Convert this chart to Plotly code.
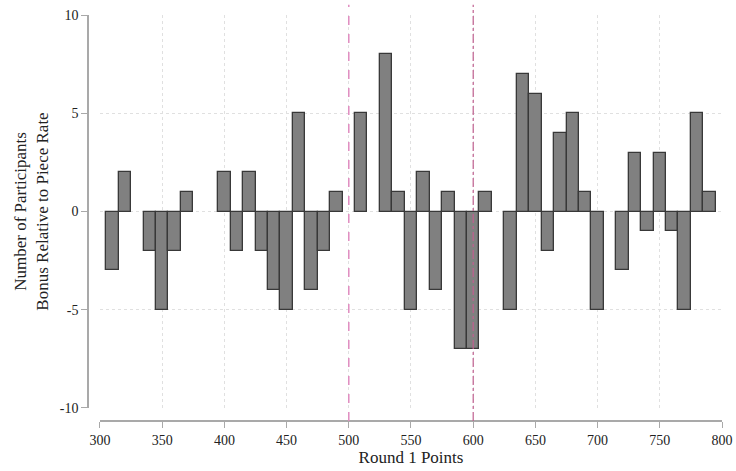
import plotly.graph_objects as go

# Round 1 point bins (bin centres, width 10) and net count of participants
# choosing the bonus relative to piece rate in each bin
bin_centres = [310, 320, 340, 350, 360, 370,
               400, 410, 420, 430, 440, 450, 460, 470, 480, 490,
               510, 530, 540, 550, 560, 570, 580, 590, 600, 610,
               630, 640, 650, 660, 670, 680, 690, 700,
               720, 730, 740, 750, 760, 770, 780, 790]
net_counts = [-3, 2, -2, -5, -2, 1,
              2, -2, 2, -2, -4, -5, 5, -4, -2, 1,
              5, 8, 1, -5, 2, -4, 1, -7, -7, 1,
              -5, 7, 6, -2, 4, 5, 1, -5,
              -3, 3, -1, 3, -1, -5, 5, 1]
bin_width = 10

x_ticks = [300, 350, 400, 450, 500, 550, 600, 650, 700, 750, 800]
y_ticks = [-10, -5, 0, 5, 10]
y_tick_text = ["-10", "-5", "0", "5", "10"]

# Reference thresholds marked on the x axis
threshold_lo = 500
threshold_hi = 600

FONT = "Liberation Serif"
AXIS_GREY = "#a9a9a9"
GRID_GREY = "#e0e0e0"

fig = go.Figure()
fig.add_trace(go.Bar(
    x=bin_centres,
    y=net_counts,
    width=bin_width,
    marker=dict(color="#808080", line=dict(color="#383838", width=1.3)),
    showlegend=False,
    hoverinfo="x+y",
))

fig.add_shape(type="line", xref="x", yref="paper",
              x0=threshold_lo, x1=threshold_lo, y0=0, y1=1.025,
              line=dict(color="#e08cc0", width=1.5, dash="dash"), layer="above")
fig.add_shape(type="line", xref="x", yref="paper",
              x0=threshold_hi, x1=threshold_hi, y0=0, y1=1.025,
              line=dict(color="#c0608f", width=1.2, dash="dashdot"), layer="above")

fig.update_layout(
    width=736, height=471,
    margin=dict(l=88, r=13.5, t=15, b=50.3, autoexpand=False),
    plot_bgcolor="white", paper_bgcolor="white",
    font=dict(family=FONT, size=14, color="#222222"),
    bargap=0,
    xaxis=dict(
        domain=[12 / 634.5, 1],
        range=[300, 800],
        anchor="free", position=0,
        automargin=False,
        tickmode="array", tickvals=x_ticks,
        ticks="outside", ticklen=6, tickcolor=AXIS_GREY, tickwidth=1.2,
        showline=True, linecolor=AXIS_GREY, linewidth=1.6,
        showgrid=True, gridcolor=GRID_GREY, griddash="dot", gridwidth=1,
        zeroline=False,
        tickfont=dict(family=FONT, size=14, color="#222222"),
        title=dict(text="Round 1 Points", font=dict(family=FONT, size=17, color="#222222"),
                   standoff=2),
    ),
    yaxis=dict(
        domain=[13 / 405.7, 1],
        range=[-10, 10],
        anchor="free", position=0,
        automargin=False,
        tickmode="array", tickvals=y_ticks, ticktext=y_tick_text,
        ticks="outside", ticklen=6, tickcolor=AXIS_GREY, tickwidth=1.2,
        showline=True, linecolor=AXIS_GREY, linewidth=1.6,
        showgrid=True, gridcolor=GRID_GREY, griddash="dot", gridwidth=1,
        zeroline=False,
        tickfont=dict(family=FONT, size=14, color="#222222"),
        title=dict(text="Number of Participants<br>Bonus Relative to Piece Rate",
                   font=dict(family=FONT, size=17, color="#222222"), standoff=6),
    ),
)

fig.write_html("out.html")
